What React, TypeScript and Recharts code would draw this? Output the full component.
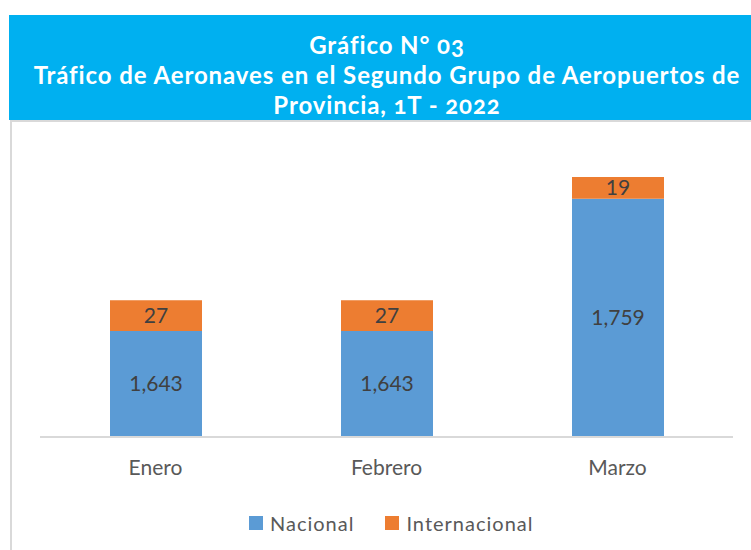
import React from 'react';
import { BarChart, Bar, XAxis, YAxis, Legend, LabelList } from 'recharts';

const months = ['Enero', 'Febrero', 'Marzo'];
const nacional = [1643, 1643, 1759];
const internacional = [27, 27, 19];
const seriesOrder = ['Nacional', 'Internacional'];
const titleLines = ['Gráfico N° 03', 'Tráfico de Aeronaves en el Segundo Grupo de Aeropuertos de', 'Provincia, 1T - 2022'];

const data = months.map((m, i) => ({ mes: m, Nacional: nacional[i], Internacional: internacional[i] }));

const FONT = 'Lato, "Open Sans", sans-serif';

const fmt = (v: any) => Number(v).toLocaleString('en-US');

const LegendContent = (props: any) => {
  const payload = [...(props.payload || [])].sort(
    (a: any, b: any) => seriesOrder.indexOf(a.value) - seriesOrder.indexOf(b.value)
  );
  return (
    <div style={{ display: 'flex', alignItems: 'center', fontFamily: FONT, fontSize: 20, color: '#595959', letterSpacing: 1 }}>
      {payload.map((p: any, i: number) => (
        <div key={i} style={{ display: 'flex', alignItems: 'center', marginRight: i === 0 ? 31 : 0 }}>
          <div style={{ width: 14, height: 14, background: p.color, marginRight: 7 }} />
          <span>{p.value}</span>
        </div>
      ))}
    </div>
  );
};

export default function App() {
  return (
    <div style={{ position: 'absolute', left: 0, top: 0, width: 751, height: 550, background: '#fff', overflow: 'hidden' }}>
      <div style={{ position: 'absolute', left: 10, top: 120, width: 760, height: 460, borderLeft: '2px solid #D9D9D9', borderTop: '2px solid #D9D9D9' }} />
      <div style={{ position: 'absolute', left: 9, top: 15, width: 742, height: 105, background: '#00B0F0' }} />
      <div style={{ position: 'absolute', left: 0, top: 30, width: 774, textAlign: 'center', color: '#fff', fontFamily: FONT, fontWeight: 700, fontSize: 24, letterSpacing: 0.9, lineHeight: '30px', fontVariantNumeric: 'oldstyle-nums', whiteSpace: 'nowrap' }}>
        {titleLines.map((t, i) => (<div key={i}>{t}</div>))}
      </div>
      <div style={{ position: 'absolute', left: 0, top: 0 }}>
        <BarChart width={751} height={550} data={data} margin={{ top: 152, right: 18, left: 40, bottom: 83 }}>
          <XAxis dataKey="mes" axisLine={{ stroke: '#D9D9D9', strokeWidth: 2 }} tickLine={false} tickMargin={17}
            tick={{ fill: '#595959', fontSize: 21, fontFamily: FONT }} />
          <YAxis hide domain={[1550, 1800]} allowDataOverflow />
          <Legend layout="horizontal" verticalAlign="middle" align="center" content={<LegendContent />}
            wrapperStyle={{ top: 511, left: 249, width: 320, height: 22 }} />
          <Bar dataKey="Nacional" stackId="a" fill="#5B9BD5" barSize={92} isAnimationActive={false}>
            <LabelList dataKey="Nacional" position="center" formatter={fmt} fill="#404040" fontSize={21} fontFamily={FONT} />
          </Bar>
          <Bar dataKey="Internacional" stackId="a" fill="#ED7D31" barSize={92} isAnimationActive={false}>
            <LabelList dataKey="Internacional" position="center" fill="#404040" fontSize={21} fontFamily={FONT} />
          </Bar>
        </BarChart>
      </div>
    </div>
  );
}
